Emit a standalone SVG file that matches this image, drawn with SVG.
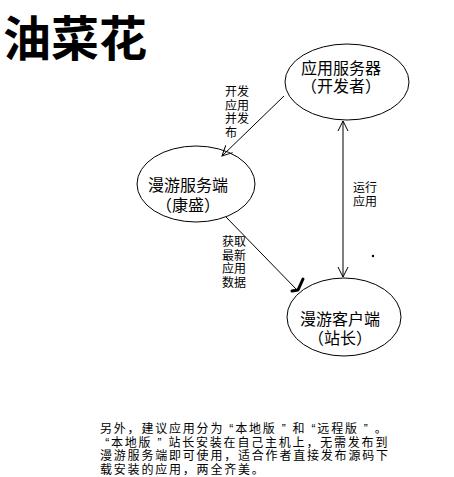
<svg xmlns="http://www.w3.org/2000/svg" width="454" height="477" viewBox="0 0 454 477">
<style>
.bg{fill:#fff}
.node ellipse{fill:none;stroke:#000;stroke-width:1}
.nt{font-family:"Liberation Sans","Noto Sans CJK SC",sans-serif;font-size:16px;fill:#000;text-anchor:middle}
.lbl{font-family:"Liberation Sans","Noto Sans CJK SC",sans-serif;font-size:12px;fill:#000}
.note{font-family:"Liberation Sans","Noto Sans CJK SC",sans-serif;font-size:12px;letter-spacing:1.8px;fill:#000}
.edge{stroke:#000;stroke-width:1;fill:none}
</style>
<defs>
<marker id="open" viewBox="0 0 12 12" refX="11" refY="6" markerWidth="12" markerHeight="12" markerUnits="userSpaceOnUse" orient="auto-start-reverse">
<path d="M1,1 L11,6 L1,11" fill="none" stroke="#000" stroke-width="1"/>
</marker>
</defs>
<rect class="bg" x="0" y="0" width="454" height="477"/>
<text x="3" y="56" font-family="'Noto Sans CJK SC',sans-serif" font-size="48" font-weight="bold" fill="#000">油菜花</text>
<g id="connectors">
<line class="edge" x1="284" y1="96" x2="222" y2="156" marker-end="url(#open)"/>
<line class="edge" x1="343" y1="121" x2="343" y2="277" marker-start="url(#open)" marker-end="url(#open)"/>
<line class="edge" x1="226" y1="217" x2="297" y2="290"/>
<path d="M303,279 L298,290 L292,291" fill="none" stroke="#000" stroke-width="3" stroke-linecap="round" stroke-linejoin="round"/>
<text class="lbl"><tspan x="225" y="96">开发</tspan><tspan x="225" y="109.5">应用</tspan><tspan x="225" y="123">并发</tspan><tspan x="225" y="136.5">布</tspan></text>
<text class="lbl"><tspan x="222" y="246">获取</tspan><tspan x="222" y="259.5">最新</tspan><tspan x="222" y="273">应用</tspan><tspan x="222" y="286.5">数据</tspan></text>
<text class="lbl"><tspan x="353" y="192">运行</tspan><tspan x="353" y="205.5">应用</tspan></text>
</g>
<g id="app-server" class="node">
<ellipse cx="347" cy="82" rx="62" ry="38"/>
<text class="nt"><tspan x="341" y="74">应用服务器</tspan><tspan x="341" y="92">（开发者）</tspan></text>
</g>
<g id="roam-server" class="node">
<ellipse cx="196" cy="184" rx="59" ry="38"/>
<text class="nt"><tspan x="188" y="191">漫游服务端</tspan><tspan x="188" y="211">（康盛）</tspan></text>
</g>
<g id="roam-client" class="node">
<ellipse cx="344" cy="317" rx="57" ry="39"/>
<text class="nt"><tspan x="340" y="325">漫游客户端</tspan><tspan x="340" y="344">（站长）</tspan></text>
</g>
<circle cx="373" cy="256" r="1.2" fill="#000"/>
<text class="note"><tspan x="100" y="433">另外，建议应用分为 “本地版 ”  和 “远程版 ”  。</tspan><tspan x="100" y="446.5"> “本地版 ” 站长安装在自己主机上，无需发布到</tspan><tspan x="100" y="460">漫游服务端即可使用，适合作者直接发布源码下</tspan><tspan x="100" y="473.5">载安装的应用，两全齐美。</tspan></text>
</svg>
